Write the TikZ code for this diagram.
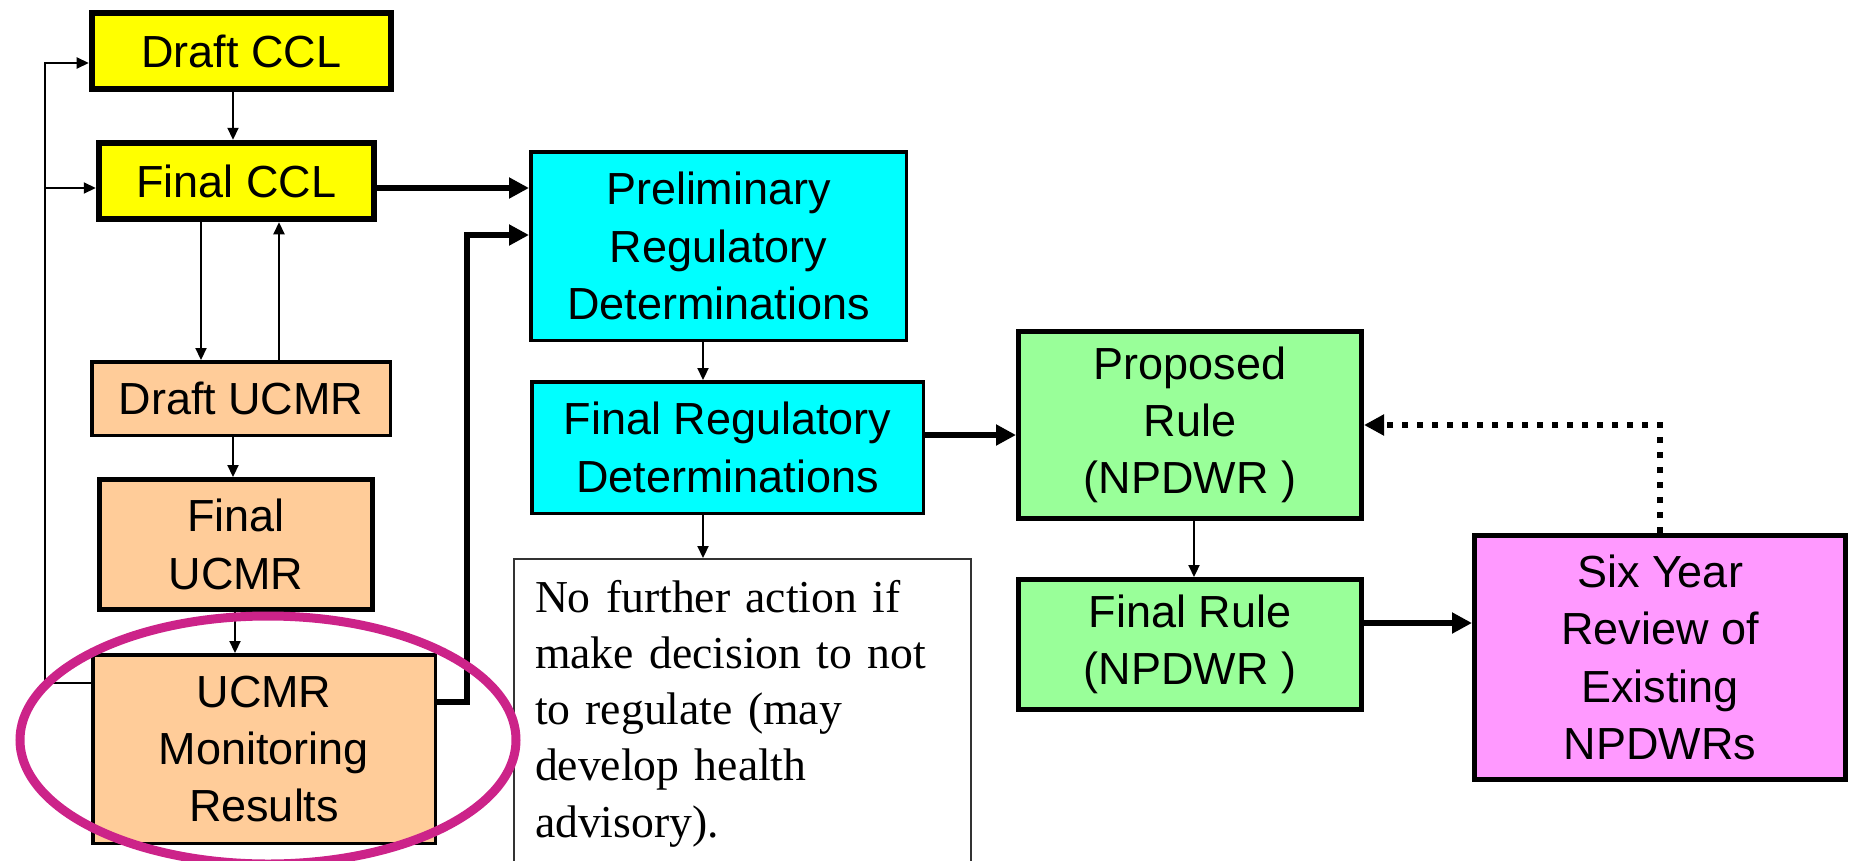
\documentclass[tikz,border=0pt]{standalone}
\usepackage{fontspec}
\setmainfont{Liberation Serif}
\setsansfont{Liberation Sans}
\usetikzlibrary{arrows.meta}

\definecolor{amarillo}{HTML}{FFFF00}
\definecolor{naranja}{HTML}{FFCC99}
\definecolor{cian}{HTML}{00FFFF}
\definecolor{verde}{HTML}{99FF99}
\definecolor{rosa}{HTML}{FF99FF}
\definecolor{fucsia}{HTML}{CC2389}

\begin{document}
\begin{tikzpicture}[
			every node/.style={font=\sffamily\fontsize{12.8}{16.3}\selectfont, align=center},
			caja/.style={rectangle, draw=black, inner sep=0pt, line width=0.035cm},
			ccl/.style={caja, fill=amarillo, line width=0.065cm},
			ucmr/.style={caja, fill=naranja},
			det/.style={caja, fill=cian},
			regla/.style={caja, fill=verde, line width=0.05cm},
			revision/.style={caja, fill=rosa, line width=0.05cm},
			nota/.style={draw=black!80, line width=0.02cm, anchor=north west, inner sep=0.21cm,
				align=left, text width=4.15cm, font=\rmfamily\fontsize{13}{16}\selectfont},
			flecha/.style={draw=black, line width=0.022cm, -{Triangle[length=1.2mm, width=1.1mm]}},
			flechagruesa/.style={draw=black, line width=0.06cm, -{Triangle[length=2mm, width=2mm]}},
			punteada/.style={flechagruesa, dash pattern=on 0.06cm off 0.09cm},
			elipse/.style={draw=fucsia, line width=0.09cm}]
		\useasboundingbox (0,0) rectangle (18.53,-8.6);
		\clip (0,0) rectangle (18.53,-8.6);
		\node[ccl, minimum width=2.99cm, minimum height=0.76cm] (DCCL) at (2.415,-0.51) {Draft CCL};
		\node[ccl, minimum width=2.75cm, minimum height=0.76cm] (FCCL) at (2.365,-1.81) {Final CCL};
		\node[ucmr, minimum width=2.985cm, minimum height=0.735cm] (DUCMR) at (2.41,-3.985) {Draft UCMR};
		\node[ucmr, line width=0.05cm, minimum width=2.73cm, minimum height=1.30cm] (FUCMR) at (2.36,-5.445) {Final\\UCMR};
		\node[ucmr, minimum width=3.425cm, minimum height=1.885cm] (UCMR) at (2.64,-7.49) {UCMR\\Monitoring\\Results};
		\node[det, minimum width=3.755cm, minimum height=1.885cm] (PRD) at (7.185,-2.46) {Preliminary\\Regulatory\\Determinations};
		\node[det, minimum width=3.915cm, minimum height=1.315cm] (FRD) at (7.275,-4.475) {Final Regulatory\\Determinations};
		\node[regla, minimum width=3.43cm, minimum height=1.87cm] (PR) at (11.9,-4.25) {Proposed\\Rule\\(NPDWR )};
		\node[regla, minimum width=3.43cm, minimum height=1.30cm] (FR) at (11.9,-6.445) {Final Rule\\(NPDWR )};
		\node[revision, minimum width=3.71cm, minimum height=2.44cm] (SYR) at (16.6,-6.575) {Six Year\\Review of\\Existing\\NPDWRs};
		\node[nota] (NOTA) at (5.13,-5.58) {No further action if\\make decision to not\\to regulate (may\\develop health\\advisory).};
		\coordinate (izq) at (0.45,-6.83);
		\draw[flecha] (DCCL.south -| 2.33,0) -- (FCCL.north -| 2.33,0);
		\draw[flecha] (FCCL.south -| 2.01,0) -- (DUCMR.north -| 2.01,0);
		\draw[flecha] (DUCMR.north -| 2.79,0) -- (FCCL.south -| 2.79,0);
		\draw[flecha] (DUCMR.south -| 2.33,0) -- (FUCMR.north -| 2.33,0);
		\draw[flecha] (FUCMR.south -| 2.35,0) -- (UCMR.north -| 2.35,0);
		\draw[flecha] (UCMR.west |- izq) -- (izq) |- (DCCL.west |- 0,-0.63);
		\draw[flecha] (izq |- 0,-1.88) -- (FCCL.west |- 0,-1.88);
		\draw[flechagruesa] (FCCL.east |- 0,-1.88) -- (PRD.west |- 0,-1.88);
		\draw[flechagruesa] (UCMR.east |- 0,-7.02) -| (4.67,-2.35) -- (PRD.west |- 0,-2.35);
		\draw[flecha] (PRD.south -| 7.03,0) -- (FRD.north -| 7.03,0);
		\draw[flecha] (FRD.south -| 7.03,0) -- (NOTA.north -| 7.03,0);
		\draw[flechagruesa] (FRD.east |- 0,-4.35) -- (PR.west |- 0,-4.35);
		\draw[flecha] (PR.south -| 11.94,0) -- (FR.north -| 11.94,0);
		\draw[flechagruesa] (FR.east |- 0,-6.23) -- (SYR.west |- 0,-6.23);
		\draw[punteada] (SYR.north) |- (PR.east);
		\draw[elipse] (2.68,-7.40) ellipse [x radius=2.48, y radius=1.24];
	\end{tikzpicture}
\end{document}
